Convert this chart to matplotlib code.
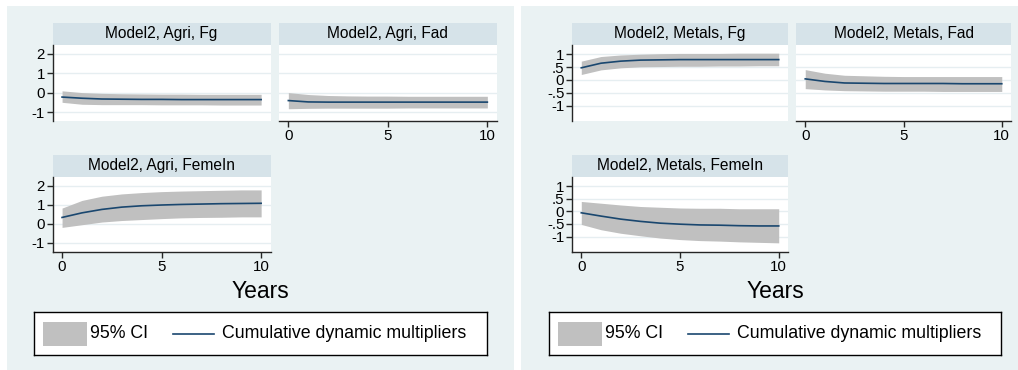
import matplotlib
matplotlib.use("Agg")
import matplotlib.pyplot as plt
from matplotlib.patches import Rectangle
from matplotlib.lines import Line2D

plt.rcParams['font.family'] = ['Liberation Sans', 'DejaVu Sans']

# ---- data: cumulative dynamic multipliers and 95% CI bounds ----
years = [0, 1, 2, 3, 4, 5, 6, 7, 8, 9, 10]

agri_fg_mult = [-0.23, -0.29, -0.33, -0.34, -0.35, -0.35, -0.36, -0.36, -0.36, -0.36, -0.36]
agri_fg_lo = [-0.50, -0.60, -0.62, -0.62, -0.62, -0.63, -0.63, -0.63, -0.64, -0.64, -0.64]
agri_fg_hi = [0.09, 0.00, -0.04, -0.06, -0.07, -0.08, -0.08, -0.09, -0.09, -0.09, -0.09]

agri_fad_mult = [-0.41, -0.48, -0.49, -0.49, -0.49, -0.49, -0.49, -0.49, -0.49, -0.49, -0.49]
agri_fad_lo = [-0.83, -0.81, -0.80, -0.80, -0.80, -0.80, -0.79, -0.79, -0.79, -0.79, -0.79]
agri_fad_hi = [0.00, -0.10, -0.15, -0.17, -0.18, -0.18, -0.19, -0.19, -0.19, -0.19, -0.19]

agri_feme_mult = [0.33, 0.57, 0.75, 0.87, 0.94, 0.98, 1.01, 1.03, 1.05, 1.06, 1.07]
agri_feme_lo = [-0.19, -0.05, 0.09, 0.17, 0.22, 0.27, 0.31, 0.33, 0.34, 0.36, 0.36]
agri_feme_hi = [0.82, 1.22, 1.44, 1.56, 1.63, 1.68, 1.71, 1.73, 1.75, 1.77, 1.77]

metals_fg_mult = [0.47, 0.65, 0.73, 0.77, 0.78, 0.79, 0.79, 0.79, 0.79, 0.79, 0.79]
metals_fg_lo = [0.21, 0.39, 0.47, 0.51, 0.52, 0.53, 0.53, 0.54, 0.54, 0.55, 0.55]
metals_fg_hi = [0.73, 0.91, 0.97, 1.00, 1.02, 1.03, 1.03, 1.03, 1.04, 1.04, 1.04]

metals_fad_mult = [0.04, -0.06, -0.12, -0.13, -0.14, -0.14, -0.14, -0.14, -0.15, -0.15, -0.15]
metals_fad_lo = [-0.34, -0.39, -0.42, -0.43, -0.44, -0.44, -0.44, -0.45, -0.45, -0.45, -0.45]
metals_fad_hi = [0.40, 0.26, 0.18, 0.16, 0.14, 0.13, 0.13, 0.13, 0.13, 0.13, 0.13]

metals_feme_mult = [-0.06, -0.19, -0.31, -0.40, -0.47, -0.51, -0.54, -0.55, -0.57, -0.58, -0.58]
metals_feme_lo = [-0.52, -0.73, -0.87, -0.97, -1.06, -1.12, -1.16, -1.18, -1.21, -1.23, -1.25]
metals_feme_hi = [0.39, 0.32, 0.25, 0.19, 0.16, 0.13, 0.12, 0.12, 0.10, 0.10, 0.10]

panel_titles = ["Model2, Agri, Fg", "Model2, Agri, Fad", "Model2, Agri, FemeIn",
                "Model2, Metals, Fg", "Model2, Metals, Fad", "Model2, Metals, FemeIn"]

agri_yticks = [-1, 0, 1, 2]
agri_ytick_labels = ["-1", "0", "1", "2"]
metals_yticks = [-1, -0.5, 0, 0.5, 1]
metals_ytick_labels = ["-1", "-.5", "0", ".5", "1"]
xticks = [0, 5, 10]
xtick_labels = ["0", "5", "10"]

ci_label = "95% CI"
line_label = "Cumulative dynamic multipliers"
xlabel = "Years"

# ---- styling ----
W, H = 1018, 370
BG = "#EAF2F3"
STRIP = "#D6E3E9"
GRID = "#E6EEF1"
BAND = "#C0C0C0"
NAVY = "#1A476F"
AXC = "#262626"
TICK_FS = 10.8
TITLE_FS = 11.2
LEG_FS = 12.8
XLAB_FS = 16.5

fig = plt.figure(figsize=(W / 100, H / 100), dpi=100, facecolor="white")


def box(x0, y0, x1, y1):
    return [x0 / W, 1 - y1 / H, (x1 - x0) / W, (y1 - y0) / H]


# graph region backgrounds, kept behind every axes
bg_ax = fig.add_axes([0, 0, 1, 1], zorder=-10)
bg_ax.set_xlim(0, W)
bg_ax.set_ylim(H, 0)
bg_ax.axis("off")
for x0, x1 in [(7, 514), (521, 1018)]:
    bg_ax.add_patch(Rectangle((x0, 6), x1 - x0, H - 6, facecolor=BG, edgecolor="none"))


def panel(x0, x1, y0, y1, title, mult, lo, hi, ylim, yt, ytl, show_y, show_x):
    # strip title
    sax = fig.add_axes(box(x0, y0 - 21.5, x1, y0))
    sax.set_facecolor(STRIP)
    sax.set_xticks([]); sax.set_yticks([])
    for s in sax.spines.values():
        s.set_visible(False)
    sax.text(0.5, 0.5, title, ha="center", va="center", fontsize=TITLE_FS,
             transform=sax.transAxes)

    ax = fig.add_axes(box(x0, y0, x1, y1))
    ax.set_facecolor("white")
    ax.fill_between(years, lo, hi, color=BAND, linewidth=0, zorder=2)
    ax.plot(years, mult, color=NAVY, lw=1.2, zorder=3)
    ax.set_xlim(-0.47, 10.47)
    ax.set_ylim(*ylim)
    ax.set_yticks(yt)
    ax.grid(axis="y", color=GRID, lw=1.0, zorder=1)
    ax.set_axisbelow(True)
    for s in ["top", "right"]:
        ax.spines[s].set_visible(False)
    ax.spines["left"].set_visible(show_y)
    ax.spines["bottom"].set_visible(show_x)
    ax.spines["left"].set_color(AXC)
    ax.spines["bottom"].set_color(AXC)
    ax.spines["left"].set_linewidth(1.0)
    ax.spines["bottom"].set_linewidth(1.0)
    if show_y:
        ax.set_yticklabels(ytl, fontsize=TICK_FS)
        ax.tick_params(axis="y", length=4, width=1.0, color=AXC, pad=1.5)
    else:
        ax.tick_params(axis="y", left=False, labelleft=False)
    if show_x:
        ax.set_xticks(xticks)
        ax.set_xticklabels(xtick_labels, fontsize=TICK_FS)
        ax.tick_params(axis="x", length=4, width=1.0, color=AXC, pad=2)
    else:
        ax.set_xticks([])
    return ax


agri_lim = (-1.46, 2.46)
metals_lim = (-1.6, 1.37)

# left graph: agriculture
panel(52.7, 270.5, 44.7, 121, panel_titles[0], agri_fg_mult, agri_fg_lo, agri_fg_hi,
      agri_lim, agri_yticks, agri_ytick_labels, True, False)
panel(279, 496.7, 44.7, 121, panel_titles[1], agri_fad_mult, agri_fad_lo, agri_fad_hi,
      agri_lim, agri_yticks, agri_ytick_labels, False, True)
panel(52.7, 270.5, 176.7, 251.7, panel_titles[2], agri_feme_mult, agri_feme_lo, agri_feme_hi,
      agri_lim, agri_yticks, agri_ytick_labels, True, True)

# right graph: metals
panel(572, 788, 44.7, 121, panel_titles[3], metals_fg_mult, metals_fg_lo, metals_fg_hi,
      metals_lim, metals_yticks, metals_ytick_labels, True, False)
panel(796, 1011, 44.7, 121, panel_titles[4], metals_fad_mult, metals_fad_lo, metals_fad_hi,
      metals_lim, metals_yticks, metals_ytick_labels, False, True)
panel(572, 788, 176.7, 251.7, panel_titles[5], metals_feme_mult, metals_feme_lo, metals_feme_hi,
      metals_lim, metals_yticks, metals_ytick_labels, True, True)

# axis titles
for cx in [260.5, 775]:
    fig.text(cx / W, 1 - 291 / H, xlabel, ha="center", va="center", fontsize=XLAB_FS)


# legends
def legend_box(x0, x1):
    lax = fig.add_axes(box(x0, 312, x1, 355))
    lax.set_xlim(0, x1 - x0)
    lax.set_ylim(43, 0)
    lax.set_facecolor("white")
    lax.set_xticks([]); lax.set_yticks([])
    for s in lax.spines.values():
        s.set_color("black")
        s.set_linewidth(1.0)
    lax.add_patch(Rectangle((9, 10), 44, 24, facecolor=BAND, edgecolor="none"))
    lax.text(56, 22, ci_label, ha="left", va="center", fontsize=LEG_FS)
    lax.add_line(Line2D([139, 180], [22, 22], color=NAVY, lw=1.2))
    lax.text(188, 22, line_label, ha="left", va="center", fontsize=LEG_FS)


legend_box(34, 487)
legend_box(549, 1001)

fig.savefig("out.png", dpi=100, facecolor="white")
